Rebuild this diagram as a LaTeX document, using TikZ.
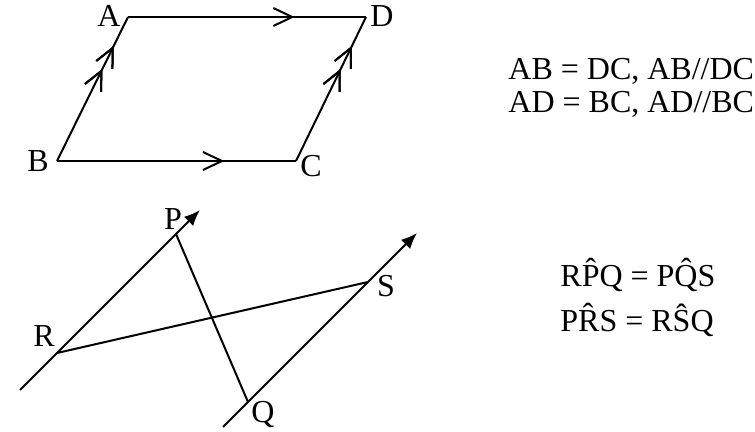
\documentclass[tikz,border=0pt]{standalone}
\usepackage{fontspec}
\setmainfont{Liberation Serif}
\usetikzlibrary{arrows.meta,decorations.markings}
\tikzset{
  edge/.style={line width=1pt},
  lbl/.style={inner sep=0pt,anchor=base,font=\fontsize{16}{19}\selectfont},
  txt/.style={inner sep=0pt,anchor=base west,font=\fontsize{16}{19}\selectfont},
  chev/.style={postaction={decorate},decoration={markings,mark=at position #1 with {\arrow[line width=1pt]{Straight Barb[length=9.5pt,width=9pt]}}}},
  ray/.style={line width=1pt,-{Latex[length=8pt,width=6.5pt]}}
}
\begin{document}
\begin{tikzpicture}[x=0.5pt,y=-0.5pt]
\useasboundingbox (0,0) rectangle (755,432);
% parallelogram
\coordinate (A) at (128,17);
\coordinate (D) at (366,17);
\coordinate (B) at (57,161);
\coordinate (C) at (296,161);
\draw[edge,chev=0.7] (A) -- (D);
\draw[edge,chev=0.7] (B) -- (C);
\draw[edge,chev=0.64,chev=0.8] (B) -- (A);
\draw[edge,chev=0.64,chev=0.8] (C) -- (D);
\node[lbl] (lA) at (109,27) {A};
\node[lbl] (lD) at (382,27) {D};
\node[lbl] (lB) at (38,172) {B};
\node[lbl] (lC) at (311,177) {C};
\node[txt] (t1) at (508,80) {AB = DC, AB//DC};
\node[txt] (t2) at (508,113) {AD = BC, AD//BC};
% second figure
\coordinate (R) at (57,353);
\coordinate (P) at (176,234);
\coordinate (Q) at (248,402);
\coordinate (S) at (368,282);
\coordinate (r0) at (20,390);
\coordinate (rt) at (200,210);
\coordinate (q0) at (223,427);
\coordinate (st) at (417,233);
\draw[ray] (r0) -- (rt);
\draw[ray] (q0) -- (st);
\draw[edge] (P) -- (Q);
\draw[edge] (R) -- (S);
\node[lbl] (lP) at (173,230) {P};
\node[lbl] (lR) at (44,347) {R};
\node[lbl] (lS) at (386,297) {S};
\node[lbl] (lQ) at (263,423) {Q};
\node[txt] (t3) at (560,287) {R\^{P}Q = P\^{Q}S};
\node[txt] (t4) at (560,332) {P\^{R}S = R\^{S}Q};
\end{tikzpicture}
\end{document}
